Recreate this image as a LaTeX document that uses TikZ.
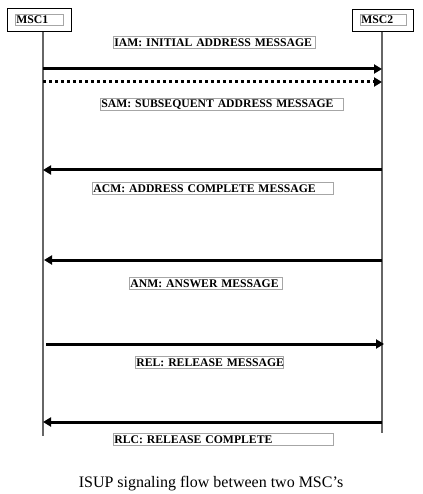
\documentclass[tikz,border=0pt]{standalone}
\usepackage{fontspec}
\setmainfont{Liberation Serif}
\usetikzlibrary{arrows.meta}
\begin{document}
\begin{tikzpicture}[x=1pt,y=1pt,
  mscbox/.style={draw=black, line width=1pt, inner sep=0pt},
  lbl/.style={draw=gray!70, line width=0.8pt, anchor=north west, inner xsep=1pt, inner ysep=0pt,
    minimum height=12pt, align=left, font=\bfseries\fontsize{11.7}{12}\selectfont},
  life/.style={draw=gray!80!black, line width=1.4pt},
  msg/.style={line width=3pt, -{Triangle[length=8pt,width=9pt]}, shorten >=-1pt},
  dotmsg/.style={msg, dash pattern=on 3pt off 3pt}
]
\useasboundingbox (0,0) rectangle (422,-494);
% MSC boxes
\node[mscbox, minimum width=64pt, minimum height=23pt] (msc1) at (39,-20.5) {};
\node[lbl, text width=46pt, minimum height=11pt] (msc1l) at (15,-14) {\mbox{MSC1}};
\node[mscbox, minimum width=61pt, minimum height=22pt] (msc2) at (382.5,-21) {};
\node[lbl, text width=44pt, minimum height=11pt] (msc2l) at (360,-14) {\mbox{MSC2}};
% lifelines
\coordinate (l1a) at (43,-32); \coordinate (l1b) at (43,-436);
\coordinate (l2a) at (382,-32); \coordinate (l2b) at (382,-433);
\draw[life] (l1a) -- (l1b);
\draw[life] (l2a) -- (l2b);
% message end points
\coordinate (iamA) at (43,-69);  \coordinate (iamB) at (381,-69);
\coordinate (samA) at (43,-82);  \coordinate (samB) at (381,-82);
\coordinate (acmA) at (382,-170); \coordinate (acmB) at (44,-170);
\coordinate (anmA) at (382,-260); \coordinate (anmB) at (45,-260);
\coordinate (relA) at (46,-344); \coordinate (relB) at (383,-344);
\coordinate (rlcA) at (382,-422); \coordinate (rlcB) at (44,-422);
\draw[msg] (iamA) -- (iamB);
\draw[dotmsg] (samA) -- (samB);
\draw[msg] (acmA) -- (acmB);
\draw[msg] (anmA) -- (anmB);
\draw[msg] (relA) -- (relB);
\draw[msg] (rlcA) -- (rlcB);
% labels
\node[lbl, text width=200pt] (iam) at (113,-36) {\mbox{IAM: INITIAL ADDRESS MESSAGE}};
\node[lbl, text width=241pt] (sam) at (100,-98) {\mbox{SAM: SUBSEQUENT ADDRESS MESSAGE}};
\node[lbl, text width=239pt] (acm) at (92,-182) {\mbox{ACM: ADDRESS COMPLETE MESSAGE}};
\node[lbl, text width=151pt] (anm) at (129,-277) {\mbox{ANM: ANSWER MESSAGE}};
\node[lbl, text width=146pt] (rel) at (135,-356) {\mbox{REL: RELEASE MESSAGE}};
\node[lbl, text width=218pt] (rlc) at (113,-433) {\mbox{RLC: RELEASE COMPLETE}};
% caption
\node[font=\fontsize{16}{16}\selectfont, inner sep=0pt, anchor=base] (cap) at (211,-487) {ISUP signaling flow between two MSC’s};
\end{tikzpicture}
\end{document}
